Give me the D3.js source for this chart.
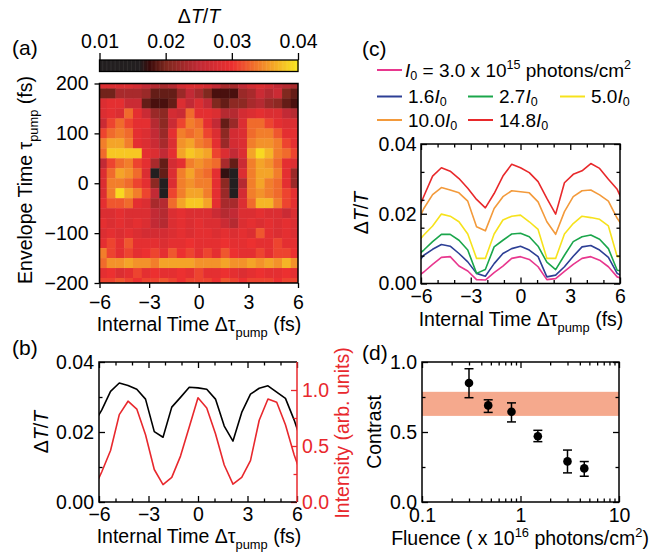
<!DOCTYPE html>
<html lang="en">
<head>
<meta charset="utf-8">
<title>Delta T/T panels</title>
<script src="https://d3js.org/d3.v7.min.js"></script>
<style>
  body { margin: 0; background: #fff; }
  svg { font-family: "Liberation Sans", Arial, sans-serif; }
</style>
</head>
<body>
<svg width="670" height="552"></svg>
<script>
// ---------- data ----------
// internal delay grid (fs)
const delay = [-6.36,-5.83,-5.30,-4.77,-4.24,-3.71,-3.18,-2.65,-2.12,-1.59,-1.06,-0.53,0,
               0.53,1.06,1.59,2.12,2.65,3.18,3.71,4.24,4.77,5.30,5.83,6.36];
// envelope delay rows (fs), top to bottom
const envelope = [200,180,160,140,120,100,80,60,40,20,0,-20,-40,-60,-80,-100,-120,-140,-160,-180,-200];
// heatmap dT/T, one row per envelope value, columns = delay[1..23]
const heat = [
  [0.028,0.028,0.028,0.028,0.027,0.025,0.024,0.023,0.024,0.027,0.028,0.028,0.027,0.025,0.023,0.023,0.025,0.027,0.028,0.027,0.025,0.024,0.023],
  [0.0195,0.0195,0.023,0.023,0.023,0.022,0.019,0.019,0.019,0.022,0.025,0.023,0.020,0.018,0.018,0.018,0.022,0.023,0.026,0.024,0.026,0.020,0.019],
  [0.028,0.029,0.029,0.026,0.026,0.019,0.018,0.018,0.019,0.028,0.025,0.028,0.025,0.020,0.019,0.021,0.021,0.023,0.024,0.022,0.021,0.019,0.018],
  [0.028,0.029,0.028,0.033,0.029,0.026,0.022,0.021,0.027,0.026,0.033,0.029,0.029,0.028,0.024,0.024,0.027,0.028,0.029,0.028,0.028,0.025,0.024],
  [0.026,0.031,0.033,0.031,0.029,0.029,0.024,0.021,0.026,0.031,0.034,0.033,0.029,0.025,0.019,0.022,0.028,0.033,0.033,0.031,0.029,0.028,0.028],
  [0.031,0.033,0.034,0.033,0.029,0.028,0.025,0.022,0.029,0.034,0.033,0.034,0.031,0.028,0.021,0.027,0.028,0.033,0.034,0.034,0.032,0.029,0.029],
  [0.034,0.036,0.036,0.034,0.029,0.028,0.026,0.023,0.028,0.035,0.036,0.034,0.033,0.029,0.022,0.027,0.028,0.034,0.035,0.035,0.034,0.031,0.029],
  [0.033,0.038,0.038,0.038,0.038,0.029,0.028,0.025,0.029,0.036,0.038,0.037,0.036,0.031,0.028,0.025,0.028,0.036,0.039,0.037,0.034,0.033,0.031],
  [0.025,0.031,0.033,0.034,0.031,0.029,0.023,0.019,0.027,0.029,0.034,0.035,0.034,0.033,0.023,0.019,0.026,0.034,0.036,0.035,0.033,0.029,0.028],
  [0.028,0.033,0.036,0.035,0.033,0.028,0.014,0.019,0.028,0.034,0.036,0.034,0.033,0.029,0.017,0.016,0.028,0.034,0.036,0.036,0.034,0.029,0.022],
  [0.028,0.034,0.034,0.033,0.031,0.029,0.021,0.016,0.028,0.034,0.035,0.034,0.034,0.029,0.021,0.014,0.024,0.034,0.036,0.034,0.033,0.029,0.022],
  [0.028,0.034,0.039,0.036,0.034,0.031,0.025,0.013,0.031,0.034,0.036,0.036,0.034,0.029,0.022,0.013,0.027,0.034,0.035,0.034,0.033,0.031,0.029],
  [0.029,0.032,0.032,0.033,0.029,0.028,0.023,0.024,0.033,0.036,0.038,0.038,0.036,0.029,0.023,0.023,0.028,0.033,0.037,0.037,0.034,0.031,0.029],
  [0.028,0.028,0.029,0.028,0.028,0.028,0.025,0.024,0.028,0.029,0.028,0.028,0.028,0.026,0.024,0.025,0.028,0.028,0.029,0.028,0.028,0.026,0.028],
  [0.029,0.028,0.029,0.028,0.029,0.028,0.025,0.024,0.028,0.029,0.028,0.029,0.028,0.028,0.026,0.024,0.028,0.029,0.028,0.029,0.028,0.029,0.028],
  [0.028,0.029,0.028,0.029,0.028,0.027,0.027,0.027,0.028,0.029,0.028,0.029,0.029,0.028,0.029,0.028,0.029,0.028,0.032,0.029,0.028,0.029,0.028],
  [0.029,0.031,0.029,0.032,0.029,0.029,0.029,0.028,0.029,0.029,0.030,0.029,0.029,0.029,0.030,0.029,0.029,0.030,0.029,0.029,0.031,0.029,0.029],
  [0.034,0.031,0.029,0.031,0.029,0.030,0.031,0.029,0.032,0.030,0.031,0.029,0.031,0.029,0.032,0.030,0.029,0.029,0.031,0.029,0.031,0.031,0.030],
  [0.033,0.035,0.035,0.036,0.035,0.035,0.034,0.036,0.036,0.036,0.036,0.035,0.035,0.035,0.036,0.035,0.035,0.036,0.035,0.036,0.035,0.037,0.035],
  [0.029,0.030,0.028,0.029,0.031,0.029,0.030,0.029,0.029,0.030,0.029,0.031,0.029,0.029,0.030,0.029,0.028,0.029,0.030,0.029,0.029,0.030,0.029],
  [0.031,0.031,0.032,0.031,0.030,0.031,0.031,0.032,0.031,0.030,0.031,0.031,0.031,0.030,0.032,0.031,0.030,0.031,0.031,0.031,0.030,0.031,0.031]
];
const cmapStops  = [0.010, 0.016, 0.0175, 0.020, 0.025, 0.030, 0.035, 0.040];
const cmapColors = ["#231f20","#231f20","#3b0a0a","#80291f","#c22a35","#ec3030","#f3922a","#f9eb1f"];
const cbarTicks = [0.01, 0.02, 0.03, 0.04];

// panel (b)
const bDtt = [0.0220,0.0263,0.0316,0.0340,0.0333,0.0322,0.0294,0.0201,0.0185,0.0271,0.0299,0.0328,0.0326,
              0.0322,0.0294,0.0217,0.0174,0.0256,0.0308,0.0325,0.0332,0.0314,0.0296,0.0234,0.0160];
const bIntensity = [0.10,0.27,0.46,0.78,0.90,0.83,0.60,0.29,0.155,0.22,0.41,0.67,0.93,
                    0.84,0.61,0.33,0.16,0.22,0.37,0.73,0.92,0.89,0.69,0.42,0.20];

// panel (c): one series per fluence
const cColors = ["#e8378e","#2d3f95","#1ba64b","#f6e21c","#f39a3b","#e8292b"];
const c1_0  = [0.0015,0.0033,0.0055,0.0075,0.0077,0.0050,0.0036,0.0011,0.0010,0.0031,0.0050,0.0072,0.0077,
               0.0069,0.0048,0.0011,0.0014,0.0035,0.0055,0.0072,0.0077,0.0067,0.0048,0.0019,0.0010];
const c1_6  = [0.0050,0.0081,0.0098,0.0112,0.0107,0.0086,0.0062,0.0029,0.0021,0.0057,0.0086,0.0100,0.0107,
               0.0096,0.0077,0.0019,0.0024,0.0048,0.0078,0.0105,0.0109,0.0096,0.0075,0.0029,0.0015];
const c2_7  = [0.0075,0.0096,0.0120,0.0141,0.0141,0.0124,0.0096,0.0029,0.0040,0.0105,0.0124,0.0142,0.0144,
               0.0134,0.0107,0.0061,0.0040,0.0081,0.0120,0.0134,0.0139,0.0127,0.0100,0.0038,0.0035];
const c5_0  = [0.0110,0.0139,0.0165,0.0199,0.0193,0.0177,0.0142,0.0072,0.0072,0.0142,0.0182,0.0193,0.0196,
               0.0177,0.0155,0.0072,0.0072,0.0142,0.0172,0.0193,0.0189,0.0184,0.0165,0.0077,0.0077];
const c10_0 = [0.0160,0.0215,0.0255,0.0275,0.0268,0.0260,0.0236,0.0163,0.0151,0.0215,0.0249,0.0266,0.0263,
               0.0260,0.0234,0.0177,0.0141,0.0206,0.0249,0.0266,0.0268,0.0254,0.0236,0.0187,0.0150];
const c14_8 = [0.0190,0.0250,0.0308,0.0332,0.0322,0.0301,0.0273,0.0241,0.0217,0.0258,0.0308,0.0342,0.0332,
               0.0318,0.0292,0.0244,0.0199,0.0289,0.0313,0.0323,0.0344,0.0330,0.0299,0.0270,0.0215];
const cSeries = [c1_0, c1_6, c2_7, c5_0, c10_0, c14_8];

// panel (d)
const fluence  = [0.30, 0.47, 0.81, 1.50, 3.00, 4.44];
const contrast = [0.85, 0.69, 0.645, 0.47, 0.29, 0.24];
const errLow   = [0.745, 0.64, 0.572, 0.431, 0.208, 0.184];
const errHigh  = [0.952, 0.73, 0.708, 0.512, 0.371, 0.289];
const bandRange = [0.615, 0.787];

const timeTicks = [-6, -3, 0, 3, 6];
const timeMinor = [-5, -4, -2, -1, 1, 2, 4, 5];
const logMajor = [0.1, 1, 10];
const logMinor = [0.2,0.3,0.4,0.5,0.6,0.7,0.8,0.9,2,3,4,5,6,7,8,9];

// ---------- helpers ----------
const svg = d3.select("svg");
const RED = "#e8282d";
const FS = 19.5;

function rich(g, parts, x, y, size, anchor, rot, color, subShift) {
  const t = g.append("text")
    .attr("font-size", size)
    .attr("text-anchor", anchor || "start")
    .attr("fill", color || "#000")
    .attr("transform", `translate(${x},${y})` + (rot ? ` rotate(${rot})` : ""));
  let shift = 0;
  parts.forEach(p => {
    const s = typeof p === "string" ? p : p[0];
    const kind = typeof p === "string" ? "" : p[1];
    const sp = t.append("tspan").text(s);
    let target = 0;
    if (kind === "sub") { target = size * (subShift || 0.3); sp.attr("font-size", size * 0.66); }
    if (kind === "sup") { target = -size * 0.42; sp.attr("font-size", size * 0.66); }
    if (kind === "i") sp.attr("font-style", "italic");
    if (target !== shift) { sp.attr("dy", target - shift); shift = target; }
  });
  return t;
}

function ticks(g, axisFn, scale, vals, size, fmt, pad, tx, ty, color) {
  const ax = axisFn(scale).tickValues(vals).tickSize(size).tickSizeOuter(0).tickPadding(pad)
    .tickFormat(fmt || (() => ""));
  const a = g.append("g").attr("transform", `translate(${tx},${ty})`).call(ax);
  a.attr("font-size", null).attr("font-family", null);
  a.select(".domain").remove();
  a.selectAll("line").attr("stroke", color || "#000").attr("stroke-width", 1.3);
  a.selectAll("text").attr("font-size", FS).attr("fill", color || "#000");
  return a;
}

function frame(g, x, y, color) {
  const [x0, x1] = x.range(), [y0, y1] = y.range();
  g.append("rect").attr("x", x0).attr("y", y1).attr("width", x1 - x0).attr("height", y0 - y1)
    .attr("fill", "none").attr("stroke", color || "#000").attr("stroke-width", 1.5);
}

function inwardBox(g, x, y, xMaj, xMin, yMaj, yMin, yFmt, xFmt, opts) {
  const [x0, x1] = x.range(), [y0, y1] = y.range();
  ticks(g, d3.axisBottom, x, xMaj, -6, xFmt, opts.xPad, 0, y0);
  ticks(g, d3.axisBottom, x, xMin, -3.5, null, 0, 0, y0);
  ticks(g, d3.axisTop, x, xMaj, -6, null, 0, 0, y1);
  ticks(g, d3.axisTop, x, xMin, -3.5, null, 0, 0, y1);
  ticks(g, d3.axisLeft, y, yMaj, -6, yFmt, opts.yPad, x0, 0);
  ticks(g, d3.axisLeft, y, yMin, -3.5, null, 0, x0, 0);
  if (!opts.noRight) {
    ticks(g, d3.axisRight, y, yMaj, -6, null, 0, x1, 0);
    ticks(g, d3.axisRight, y, yMin, -3.5, null, 0, x1, 0);
  }
}

const timeTitle = ["Internal Time ", "\u0394\u03c4", ["pump", "sub"], " (fs)"];
const dtt = ["\u0394", ["T", "i"], "/", ["T", "i"]];
const f2 = d3.format(".2f"), f1 = d3.format(".1f"), fi = d3.format("d");

// ---------- panel (a) ----------
const gA = svg.append("g");
const xA = d3.scaleLinear().domain([-6, 6]).range([99.5, 298]);
const yA = d3.scaleLinear().domain([-200, 200]).range([283, 83.5]);
const cmap = d3.scaleLinear().domain(cmapStops).range(cmapColors).clamp(true);

gA.append("clipPath").attr("id", "clipA").append("rect")
  .attr("x", 99.5).attr("y", 83.5).attr("width", 198.5).attr("height", 199.5);

const cols = delay.slice(1, -1);
const halfX = (delay[1] - delay[0]) / 2;
const halfY = (envelope[0] - envelope[1]) / 2;
const cells = [];
heat.forEach((row, r) => row.forEach((v, c) => cells.push({ t: cols[c], e: envelope[r], v })));

gA.append("g").attr("clip-path", "url(#clipA)")
  .selectAll("rect").data(cells).join("rect")
  .attr("x", d => xA(d.t - halfX))
  .attr("y", d => yA(d.e + halfY))
  .attr("width", d => xA(d.t + halfX) - xA(d.t - halfX) + 0.4)
  .attr("height", d => yA(d.e - halfY) - yA(d.e + halfY) + 0.4)
  .attr("fill", d => cmap(d.v));
frame(gA, xA, yA);
ticks(gA, d3.axisBottom, xA, timeTicks, 5, fi, 7, 0, 283);
ticks(gA, d3.axisLeft, yA, [-200, -100, 0, 100, 200], 5, fi, 6, 99.5, 0);

// colorbar
const cb = d3.scaleLinear().domain([0.01, 0.04]).range([99.5, 298]);
const cbSteps = d3.range(0.01, 0.04, 0.0002);
gA.append("g").selectAll("rect").data(cbSteps).join("rect")
  .attr("x", d => cb(d)).attr("y", 60).attr("width", cb(0.0102) - cb(0.01) + 0.5).attr("height", 11.5)
  .attr("fill", d => cmap(d));
gA.append("rect").attr("x", 99.5).attr("y", 60).attr("width", 198.5).attr("height", 11.5)
  .attr("fill", "none").attr("stroke", "#000").attr("stroke-width", 1.3);
ticks(gA, d3.axisTop, cb, cbarTicks, 7, f2, 5, 0, 60);
rich(gA, dtt, 199, 23, FS, "middle");

rich(gA, timeTitle, 199, 331, FS, "middle");
rich(gA, ["Envelope Time \u03c4", ["pump", "sub"], " (fs)"], 32, 180, FS, "middle", -90);
rich(gA, ["(a)"], 12, 55, 21);

// ---------- panel (b) ----------
const gB = svg.append("g");
const xB = d3.scaleLinear().domain([-6, 6]).range([99, 297]);
const yB = d3.scaleLinear().domain([0, 0.04]).range([502, 362]);
const yB2 = d3.scaleLinear().domain([0, 1.25]).range([502, 362]);
gB.append("clipPath").attr("id", "clipB").append("rect")
  .attr("x", 99).attr("y", 362).attr("width", 198).attr("height", 140);

const lineB = d3.line().x((d, i) => xB(delay[i])).y(d => yB(d));
const lineB2 = d3.line().x((d, i) => xB(delay[i])).y(d => yB2(d));
const plotB = gB.append("g").attr("clip-path", "url(#clipB)");
plotB.append("path").datum(bIntensity).attr("d", lineB2)
  .attr("fill", "none").attr("stroke", RED).attr("stroke-width", 1.6).attr("stroke-linejoin", "round");
plotB.append("path").datum(bDtt).attr("d", lineB)
  .attr("fill", "none").attr("stroke", "#000").attr("stroke-width", 1.6).attr("stroke-linejoin", "round");

inwardBox(gB, xB, yB, timeTicks, timeMinor, [0, 0.02, 0.04], [0.01, 0.03], f2, fi,
  { xPad: 5, yPad: 5, noRight: true });
ticks(gB, d3.axisRight, yB2, [0, 0.5, 1.0], -6, f1, 5, 297, 0, RED);
ticks(gB, d3.axisRight, yB2, [0.25, 0.75], -3.5, null, 0, 297, 0, RED);
gB.append("path").attr("d", "M297,362 L99,362 L99,502 L297,502")
  .attr("fill", "none").attr("stroke", "#000").attr("stroke-width", 1.5);
gB.append("line").attr("x1", 297).attr("x2", 297).attr("y1", 362).attr("y2", 502)
  .attr("stroke", RED).attr("stroke-width", 1.5);

rich(gB, timeTitle, 199, 543, FS, "middle");
rich(gB, dtt, 48, 432, FS, "middle", -90);
rich(gB, ["Intensity (arb. units)"], 349, 433, FS, "middle", -90, RED);
rich(gB, ["(b)"], 12, 355, 21);

// ---------- panel (c) ----------
const gC = svg.append("g");
const xC = d3.scaleLinear().domain([-6, 6]).range([421, 620]);
const yC = d3.scaleLinear().domain([0, 0.04]).range([283.5, 144]);
gC.append("clipPath").attr("id", "clipC").append("rect")
  .attr("x", 421).attr("y", 144).attr("width", 199).attr("height", 139.5);
const lineC = d3.line().x((d, i) => xC(delay[i])).y(d => yC(d));
gC.append("g").attr("clip-path", "url(#clipC)")
  .selectAll("path").data(cSeries).join("path")
  .attr("d", lineC).attr("fill", "none")
  .attr("stroke", (d, i) => cColors[i]).attr("stroke-width", 1.6).attr("stroke-linejoin", "round");
inwardBox(gC, xC, yC, timeTicks, timeMinor, [0, 0.02, 0.04], [0.008, 0.016, 0.024, 0.032], f2, fi,
  { xPad: 5.5, yPad: 4.5 });
frame(gC, xC, yC);
rich(gC, timeTitle, 521, 326, FS, "middle");
rich(gC, dtt, 368, 213, FS, "middle", -90);
rich(gC, ["(c)"], 362, 56, 21);

// legend
const legendPos = [[377, 70], [377, 96.5], [468, 96.5], [560, 96.5], [377, 120], [468, 120]];
const legendText = [
  [["I", "i"], ["0", "sub"], " = 3.0 x 10", ["15", "sup"], " photons/cm", ["2", "sup"]],
  ["1.6", ["I", "i"], ["0", "sub"]],
  ["2.7", ["I", "i"], ["0", "sub"]],
  ["5.0", ["I", "i"], ["0", "sub"]],
  ["10.0", ["I", "i"], ["0", "sub"]],
  ["14.8", ["I", "i"], ["0", "sub"]]
];
const LFS = 19;
legendPos.forEach((p, i) => {
  gC.append("line").attr("x1", p[0]).attr("x2", p[0] + 25).attr("y1", p[1]).attr("y2", p[1])
    .attr("stroke", cColors[i]).attr("stroke-width", 2);
  rich(gC, legendText[i], p[0] + (i === 0 ? 28 : 31), p[1] + 6.5, LFS, "start", 0, "#000", 0.18);
});

// ---------- panel (d) ----------
const gD = svg.append("g");
const xD = d3.scaleLog().domain([0.1, 10]).range([422, 619]);
const yD = d3.scaleLinear().domain([0, 1]).range([502, 362]);
gD.append("rect").attr("x", 422).attr("width", 197)
  .attr("y", yD(bandRange[1])).attr("height", yD(bandRange[0]) - yD(bandRange[1]))
  .attr("fill", "#f5a98d");
inwardBox(gD, xD, yD, logMajor, logMinor, [0, 0.5, 1], [0.25, 0.75], f1, d => String(d),
  { xPad: 6, yPad: 5 });
frame(gD, xD, yD);

const pts = fluence.map((f, i) => ({ f, c: contrast[i], lo: errLow[i], hi: errHigh[i] }));
const eb = gD.append("g").selectAll("g").data(pts).join("g");
eb.append("line").attr("x1", d => xD(d.f)).attr("x2", d => xD(d.f))
  .attr("y1", d => yD(d.lo)).attr("y2", d => yD(d.hi)).attr("stroke", "#000").attr("stroke-width", 1.5);
eb.append("line").attr("x1", d => xD(d.f) - 4.5).attr("x2", d => xD(d.f) + 4.5)
  .attr("y1", d => yD(d.lo)).attr("y2", d => yD(d.lo)).attr("stroke", "#000").attr("stroke-width", 1.5);
eb.append("line").attr("x1", d => xD(d.f) - 4.5).attr("x2", d => xD(d.f) + 4.5)
  .attr("y1", d => yD(d.hi)).attr("y2", d => yD(d.hi)).attr("stroke", "#000").attr("stroke-width", 1.5);
eb.append("circle").attr("cx", d => xD(d.f)).attr("cy", d => yD(d.c)).attr("r", 4.3).attr("fill", "#000");

rich(gD, ["Fluence ( x 10", ["16", "sup"], " photons/cm", ["2", "sup"], ")"], 520, 545, FS, "middle");
rich(gD, ["Contrast"], 381, 432, FS, "middle", -90);
rich(gD, ["(d)"], 362, 360, 21);
</script>
</body>
</html>
